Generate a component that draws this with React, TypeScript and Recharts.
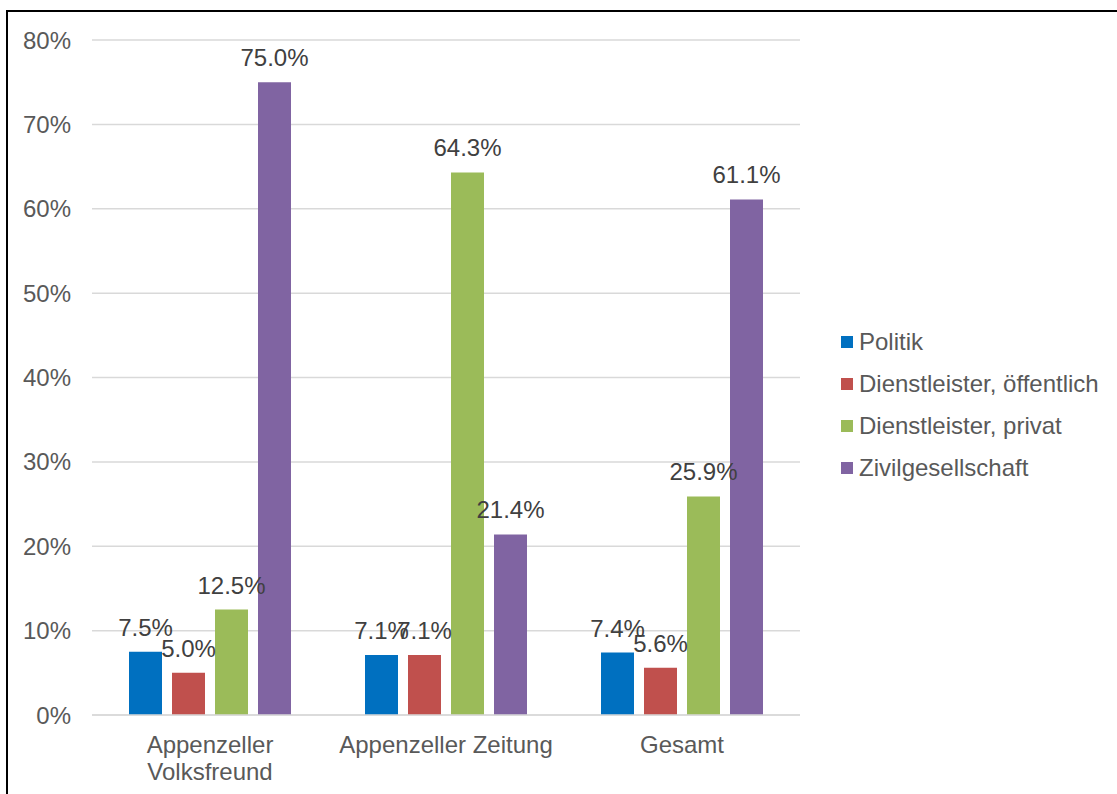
import React from 'react'
import {
  BarChart, Bar, XAxis, YAxis, CartesianGrid, Legend, LabelList,
} from 'recharts'

const categories = ['Appenzeller Volksfreund', 'Appenzeller Zeitung', 'Gesamt']
const politik = [7.5, 7.1, 7.4]
const oeffentlich = [5.0, 7.1, 5.6]
const privat = [12.5, 64.3, 25.9]
const zivil = [75.0, 21.4, 61.1]
const yTicks = [0, 10, 20, 30, 40, 50, 60, 70, 80]

const series = [
  { key: 'politik', name: 'Politik', color: '#0070C0' },
  { key: 'oeffentlich', name: 'Dienstleister, öffentlich', color: '#C0504D' },
  { key: 'privat', name: 'Dienstleister, privat', color: '#9BBB59' },
  { key: 'zivil', name: 'Zivilgesellschaft', color: '#8064A2' },
]

const data = categories.map((c, i) => ({
  name: c,
  politik: politik[i],
  oeffentlich: oeffentlich[i],
  privat: privat[i],
  zivil: zivil[i],
}))

const FONT = '"Liberation Sans", Arial, sans-serif'
const AXIS_TEXT = '#595959'

// greedy word wrap, measured with a canvas
function wrap(text: string, maxWidth: number) {
  const ctx = document.createElement('canvas').getContext('2d')
  if (!ctx) return [text]
  ctx.font = `24px ${FONT}`
  const lines: string[] = []
  let cur = ''
  for (const w of text.split(' ')) {
    const next = cur ? `${cur} ${w}` : w
    if (cur && ctx.measureText(next).width > maxWidth) {
      lines.push(cur)
      cur = w
    } else {
      cur = next
    }
  }
  if (cur) lines.push(cur)
  return lines
}

const CategoryTick = ({ x, y, payload }: any) => {
  const lines = wrap(String(payload.value), 230)
  return (
    <text x={x} y={y} textAnchor="middle" fill={AXIS_TEXT} fontSize={24} fontFamily={FONT}>
      {lines.map((l, i) => (
        <tspan key={i} x={x} dy={i === 0 ? 17 : 26.7}>{l}</tspan>
      ))}
    </text>
  )
}

const LegendBox = () => (
  <div style={{ fontFamily: FONT, fontSize: 24, color: AXIS_TEXT }}>
    {series.map((s) => (
      <div key={s.key} style={{ height: 42, display: 'flex', alignItems: 'center', whiteSpace: 'nowrap' }}>
        <span style={{ width: 12, height: 12, background: s.color, display: 'inline-block', marginRight: 6 }} />
        <span>{s.name}</span>
      </div>
    ))}
  </div>
)

export default function App() {
  return (
    <div style={{ position: 'absolute', left: 0, top: 0, width: 1117, height: 794, background: '#fff', overflow: 'hidden' }}>
      <div style={{ position: 'absolute', left: 6, top: 10, width: 1111, height: 784, borderLeft: '2px solid #000', borderTop: '2px solid #000' }} />
      <div style={{ position: 'absolute', left: 0, top: 0 }}>
        <BarChart
          width={1117}
          height={794}
          data={data}
          margin={{ top: 40, right: 317, bottom: 0, left: 0 }}
          barSize={33}
          barGap={10}
        >
          <CartesianGrid vertical={false} stroke="#d9d9d9" strokeWidth={1.5} />
          <XAxis
            dataKey="name"
            height={79}
            tickLine={false}
            tickSize={0}
            tickMargin={21}
            axisLine={{ stroke: '#d9d9d9', strokeWidth: 1.5 }}
            tick={<CategoryTick />}
            interval={0}
          />
          <YAxis
            width={92}
            domain={[0, 80]}
            ticks={yTicks}
            tickFormatter={(v: number) => `${v}%`}
            axisLine={false}
            tickLine={false}
            tickSize={0}
            tickMargin={21}
            tick={{ fill: AXIS_TEXT, fontSize: 24, fontFamily: FONT }}
          />
          <Legend
            layout="vertical"
            align="center"
            verticalAlign="middle"
            content={<LegendBox />}
            wrapperStyle={{ left: 841, top: 321, width: 276 }}
          />
          {series.map((s) => (
            <Bar key={s.key} dataKey={s.key} name={s.name} fill={s.color} isAnimationActive={false}>
              <LabelList
                dataKey={s.key}
                position="top"
                offset={16}
                formatter={(v: any) => `${Number(v).toFixed(1)}%`}
                fill="#404040"
                fontSize={24}
                fontFamily={FONT}
              />
            </Bar>
          ))}
        </BarChart>
      </div>
    </div>
  )
}
